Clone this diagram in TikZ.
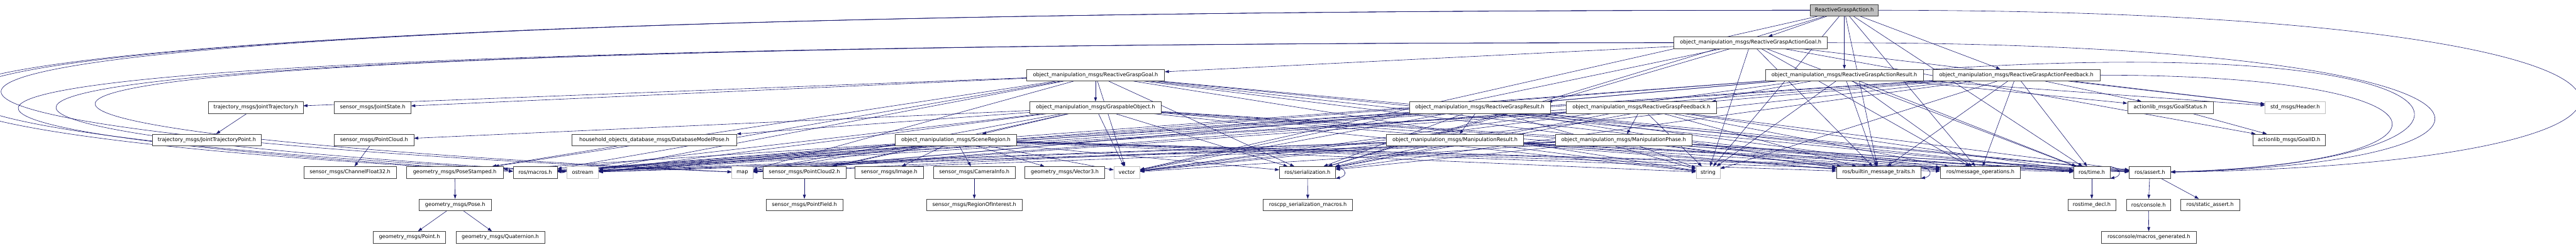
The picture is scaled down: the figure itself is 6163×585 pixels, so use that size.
\documentclass[tikz,border=0pt]{standalone}
\usepackage{fontspec}
\newfontfamily\graphfont{DejaVu Sans}
\usetikzlibrary{arrows.meta, backgrounds}
\definecolor{cedge}{HTML}{191970}
\definecolor{cborder}{HTML}{404040}
\definecolor{cgrey}{HTML}{BFBFBF}
\tikzset{
  every picture/.style={line width=1pt},
  hdr/.style={draw=cborder, fill=white, minimum width=#1, minimum height=28pt, inner xsep=2pt, inner ysep=0pt, font=\graphfont\fontsize{12.4}{14}\selectfont},
  syshdr/.style={hdr=#1, draw=cgrey},
  roothdr/.style={hdr=#1, fill=cgrey},
  dep/.style={-{Triangle[length=10pt,width=7pt]}, draw=cedge, line width=0.9pt},
}

\begin{document}
\begin{tikzpicture}[x=1pt, y=-1pt]
  \useasboundingbox (0,0) rectangle (6163,585);
  % row 0 and 1
  \node[roothdr=163pt] (root) at (4412.5,24.5) {ReactiveGraspAction.h};
  \node[hdr=367pt] (agoal) at (4188.5,102) {object\_manipulation\_msgs/ReactiveGraspActionGoal.h};
  % row 2
  \node[hdr=330pt] (goal) at (2621,179.5) {object\_manipulation\_msgs/ReactiveGraspGoal.h};
  \node[hdr=377pt] (aresult) at (4412.5,179.5) {object\_manipulation\_msgs/ReactiveGraspActionResult.h};
  \node[hdr=400pt] (afeed) at (4824,179.5) {object\_manipulation\_msgs/ReactiveGraspActionFeedback.h};
  % row 3
  \node[hdr=226pt] (jtraj) at (612,257) {trajectory\_msgs/JointTrajectory.h};
  \node[hdr=183pt] (jstate) at (891.5,257) {sensor\_msgs/JointState.h};
  \node[hdr=314pt] (grasp) at (2621,257) {object\_manipulation\_msgs/GraspableObject.h};
  \node[hdr=337pt] (result) at (3540.5,257) {object\_manipulation\_msgs/ReactiveGraspResult.h};
  \node[hdr=360pt] (feed) at (3927,257) {object\_manipulation\_msgs/ReactiveGraspFeedback.h};
  \node[hdr=205pt] (gstatus) at (5192.5,257) {actionlib\_msgs/GoalStatus.h};
  \node[syshdr=144pt] (header) at (5491,257) {std\_msgs/Header.h};
  % row 4
  \node[hdr=260pt] (jtpoint) at (495,334.5) {trajectory\_msgs/JointTrajectoryPoint.h};
  \node[hdr=190pt] (pcloud) at (895,334.5) {sensor\_msgs/PointCloud.h};
  \node[hdr=395pt] (dbpose) at (1565.5,334.5) {household\_objects\_database\_msgs/DatabaseModelPose.h};
  \node[hdr=290pt] (scene) at (2287,334.5) {object\_manipulation\_msgs/SceneRegion.h};
  \node[hdr=328pt] (mresult) at (3481,334.5) {object\_manipulation\_msgs/ManipulationResult.h};
  \node[hdr=327pt] (mphase) at (3884.5,334.5) {object\_manipulation\_msgs/ManipulationPhase.h};
  \node[hdr=173pt] (goalid) at (5476.5,334.5) {actionlib\_msgs/GoalID.h};
  % row 5
  \node[hdr=221pt] (chan) at (837.5,412) {sensor\_msgs/ChannelFloat32.h};
  \node[hdr=232pt] (posest) at (1088,412) {geometry\_msgs/PoseStamped.h};
  \node[hdr=105pt] (macros) at (1280.5,412) {ros/macros.h};
  \node[syshdr=76pt] (ostream) at (1394,412) {ostream};
  \node[syshdr=50pt] (map) at (1776,412) {map};
  \node[hdr=199pt] (pc2) at (1924.5,412) {sensor\_msgs/PointCloud2.h};
  \node[hdr=163pt] (image) at (2127.5,412) {sensor\_msgs/Image.h};
  \node[hdr=196pt] (caminfo) at (2331,412) {sensor\_msgs/CameraInfo.h};
  \node[hdr=191pt] (vec3) at (2547.5,412) {geometry\_msgs/Vector3.h};
  \node[syshdr=62pt] (vector) at (2696,412) {vector};
  \node[hdr=134pt] (ser) at (3128,412) {ros/serialization.h};
  \node[syshdr=57pt] (string) at (4086.5,412) {string};
  \node[hdr=201pt] (builtin) at (4494.5,412) {ros/builtin\_message\_traits.h};
  \node[hdr=192pt] (msgops) at (4738,412) {ros/message\_operations.h};
  \node[hdr=87pt] (time) at (5004.5,412) {ros/time.h};
  \node[hdr=99pt] (assert) at (5143.5,412) {ros/assert.h};
  % row 6 and 7
  \node[hdr=172pt] (pose) at (1089,489.5) {geometry\_msgs/Pose.h};
  \node[hdr=183pt] (pfield) at (1924.5,489.5) {sensor\_msgs/PointField.h};
  \node[hdr=228pt] (roi) at (2331,489.5) {sensor\_msgs/RegionOfInterest.h};
  \node[hdr=214pt] (sermacros) at (3129,489.5) {roscpp\_serialization\_macros.h};
  \node[hdr=115pt] (tdecl) at (5004.5,489.5) {rostime\_decl.h};
  \node[hdr=106pt] (console) at (5140,489.5) {ros/console.h};
  \node[hdr=141pt] (sassert) at (5287.5,489.5) {ros/static\_assert.h};
  \node[hdr=173pt] (point) at (979.5,567) {geometry\_msgs/Point.h};
  \node[hdr=212pt] (quat) at (1197,567) {geometry\_msgs/Quaternion.h};
  \node[hdr=228pt] (macgen) at (5141,567) {rosconsole/macros\_generated.h};

  \begin{scope}[on background layer]
    \fill[white] (0,0) rectangle (6163,585);
    % every generated message header pulls in the same ros and std headers
    \foreach \s in {root,agoal,aresult,afeed,goal,result,feed,grasp,scene,mresult,mphase}
      \foreach \t in {string,vector,ser,builtin,msgops,time}
        \draw[dep] (\s) -- (\t);
    \foreach \s in {aresult,afeed,goal,result,feed,grasp,scene,mresult,mphase}
      \foreach \t in {macros,ostream,map}
        \draw[dep] (\s) -- (\t);
    \foreach \s in {goal,result,feed,grasp,scene,mresult,mphase}
      \draw[dep] (\s) -- (assert);
    % long ones round the left and right sides
    \foreach \s/\t/\c/\ya in {root/macros/-920/24.5, root/ostream/-908/24.5, root/map/-900/24.5, agoal/macros/-659/102, agoal/ostream/-573/102, agoal/map/-559/102}
      \draw[dep] (\s) .. controls (\c,\ya) and (\c,300) .. (\t);
    \foreach \s/\c/\ya in {root/6596/24.5, agoal/6139/102, aresult/6048/70, afeed/5924/179.5}
      \draw[dep] (\s) .. controls (\c,\ya) and (\c,390) .. (assert);
    % message dependencies
    \foreach \u/\v in {root/agoal, root/aresult, root/afeed, agoal/header, agoal/goalid, agoal/goal, aresult/header, aresult/gstatus, aresult/result, afeed/header, afeed/gstatus, afeed/feed, goal/grasp, goal/posest, goal/jtraj, goal/jstate, result/mresult, feed/mphase, grasp/pcloud, grasp/dbpose, grasp/pc2, grasp/scene, scene/pc2, scene/image, scene/caminfo, scene/vec3, scene/posest, dbpose/posest, jtraj/jtpoint, pcloud/chan, posest/pose, pose/point, pose/quat, pc2/pfield, caminfo/roi, gstatus/goalid, time/tdecl, ser/sermacros, assert/console, assert/sassert, console/macgen}
      \draw[dep] (\u) -- (\v);
    \foreach \n in {ser,builtin,time}
      \draw[dep] (\n.north east) .. controls +(28,6) and +(28,-6) .. (\n.south east);
  \end{scope}
\end{tikzpicture}
\end{document}
